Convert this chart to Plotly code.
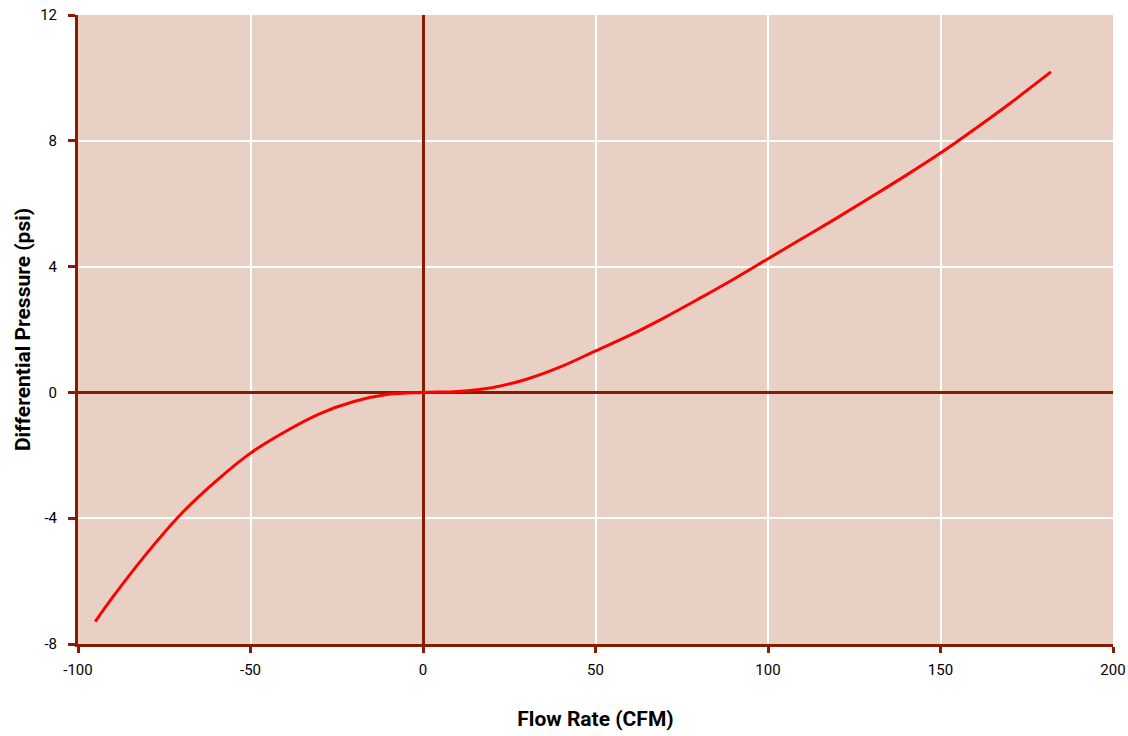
import plotly.graph_objects as go

flow_rate = [-95, -90, -80, -70, -60, -50, -40, -30, -20, -10, 0,
             10, 20, 30, 40, 50, 60, 70, 80, 90, 100, 110, 120, 130,
             140, 150, 160, 170, 182]
diff_pressure = [-7.29, -6.52, -5.11, -3.85, -2.82, -1.93, -1.25, -0.68, -0.29, -0.06, 0.0,
                 0.03, 0.15, 0.42, 0.82, 1.32, 1.82, 2.38, 2.98, 3.60, 4.25, 4.90, 5.55, 6.22,
                 6.90, 7.61, 8.38, 9.18, 10.19]

x_ticks = [-100, -50, 0, 50, 100, 150, 200]
y_ticks = [-8, -4, 0, 4, 8, 12]

AXIS = "#8b1a00"
FONT = "Liberation Sans Narrow, Roboto, Arial, sans-serif"

fig = go.Figure()
fig.add_trace(go.Scatter(
    x=flow_rate, y=diff_pressure, mode="lines",
    line=dict(color="#ff0000", width=3, shape="spline", smoothing=1.0),
    showlegend=False, hoverinfo="x+y"))

fig.update_layout(
    width=1128, height=736,
    margin=dict(l=78, r=15, t=15, b=92),
    paper_bgcolor="white", plot_bgcolor="#e8d0c4",
    font=dict(family=FONT, color="black", size=15),
)
fig.update_xaxes(
    range=[-100, 200], tickvals=x_ticks, ticktext=[str(v) for v in x_ticks],
    automargin=False, ticklabeloverflow="allow", ticklabelstandoff=4,
    showgrid=True, gridcolor="white", gridwidth=1.5,
    zeroline=True, zerolinecolor=AXIS, zerolinewidth=3,
    showline=True, linecolor=AXIS, linewidth=3,
    ticks="outside", ticklen=6, tickwidth=3, tickcolor=AXIS,
    tickfont=dict(family=FONT, size=15),
    title=dict(text="<b>Flow Rate (CFM)</b>", font=dict(family=FONT, size=21), standoff=34),
)
fig.update_yaxes(
    range=[-8, 12], tickvals=y_ticks, ticktext=[str(v) for v in y_ticks],
    automargin=False, ticklabeloverflow="allow", ticklabelstandoff=8,
    showgrid=True, gridcolor="white", gridwidth=1.5,
    zeroline=True, zerolinecolor=AXIS, zerolinewidth=3,
    showline=True, linecolor=AXIS, linewidth=3,
    ticks="outside", ticklen=7, tickwidth=3, tickcolor=AXIS,
    tickfont=dict(family=FONT, size=15),
    title=dict(text="<b>Differential Pressure (psi)</b>", font=dict(family=FONT, size=21), standoff=4),
)

fig.write_html("out.html", config={"displayModeBar": False},
               post_script="document.body.style.margin='0';")
